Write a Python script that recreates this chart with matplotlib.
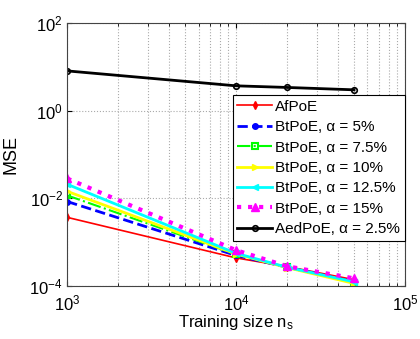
import matplotlib.pyplot as plt
from matplotlib.ticker import NullLocator, NullFormatter

plt.rcParams['font.family'] = ['Liberation Sans', 'DejaVu Sans']
plt.rcParams['mathtext.fontset'] = 'custom'
plt.rcParams['mathtext.rm'] = 'Liberation Sans'
plt.rcParams['mathtext.it'] = 'Liberation Sans:italic'

# training sizes
n_s = [1e3, 1e4, 2e4, 5e4]

afpoe = [3.7e-3, 4.4e-4, 2.8e-4, 1.4e-4]
btpoe_5 = [8.5e-3, 5.0e-4, 2.7e-4, 1.25e-4]
btpoe_75 = [1.17e-2, 5.3e-4, 2.7e-4, 1.2e-4]
btpoe_10 = [1.45e-2, 5.4e-4, 2.65e-4, 1.15e-4]
btpoe_125 = [2.1e-2, 5.6e-4, 2.7e-4, 1.25e-4]
btpoe_15 = [2.85e-2, 6.6e-4, 2.85e-4, 1.5e-4]
aedpoe = [8.1, 3.7, 3.4, 3.0]

labels = ['AfPoE', 'BtPoE, α = 5%', 'BtPoE, α = 7.5%',
          'BtPoE, α = 10%', 'BtPoE, α = 12.5%',
          'BtPoE, α = 15%', 'AedPoE, α = 2.5%']
x_ticks = [1e3, 1e4, 1e5]
y_ticks = [1e-4, 1e-2, 1e0, 1e2]


def draw_mse():
    fig = plt.figure(figsize=(4.2, 3.39), dpi=100)
    ax = fig.add_axes([0.16, 0.156, 0.804, 0.776])
    ax.loglog(n_s, afpoe, color='red', ls='-', lw=1.2, marker='d', ms=4, label=labels[0])
    ax.loglog(n_s, btpoe_5, color='blue', ls='--', lw=2, marker='.', ms=8, label=labels[1])
    ax.loglog(n_s, btpoe_75, color=(0, 1, 0), ls='-.', lw=1.5, marker='s', ms=4,
              mfc='none', mew=1.5, label=labels[2])
    ax.loglog(n_s, btpoe_10, color='yellow', ls='-', lw=2, marker='>', ms=5, label=labels[3])
    ax.loglog(n_s, btpoe_125, color='cyan', ls='-', lw=2, marker='<', ms=5, label=labels[4])
    ax.loglog(n_s, btpoe_15, color='magenta', ls=':', lw=3, marker='^', ms=6, label=labels[5])
    ax.loglog(n_s, aedpoe, color='black', ls='-', lw=2, marker='o', ms=4,
              mfc='none', mew=1.2, label=labels[6])

    ax.set_xlim(1e3, 1e5)
    ax.set_ylim(1e-4, 1e2)
    ax.set_xticks(x_ticks)
    ax.set_yticks(y_ticks)
    ax.yaxis.set_minor_locator(NullLocator())
    ax.xaxis.set_minor_formatter(NullFormatter())
    ax.tick_params(which='both', direction='in', top=True, right=True, labelsize=12)
    ax.tick_params(axis='x', pad=5)
    ax.tick_params(axis='y', pad=3)
    ax.grid(which='major', linestyle=':', color='#aaaaaa', lw=0.8)
    ax.grid(which='minor', axis='x', linestyle=':', color='#aaaaaa', lw=0.8)
    for s in ax.spines.values():
        s.set_color('#444444')

    ax.set_xlabel('Training size n$_\\mathrm{s}$', fontsize=12, labelpad=0)
    ax.set_ylabel('MSE', fontsize=13, labelpad=7)
    leg = ax.legend(loc='upper right', bbox_to_anchor=(1.0, 0.726), borderaxespad=0,
                    fontsize=11, handlelength=2.3, borderpad=0.3, labelspacing=0.42,
                    handletextpad=0.2, fancybox=False, framealpha=1, edgecolor='black')
    leg.get_frame().set_linewidth(0.8)
    fig.savefig('out.png', dpi=100)


if __name__ == '__main__':
    draw_mse()
